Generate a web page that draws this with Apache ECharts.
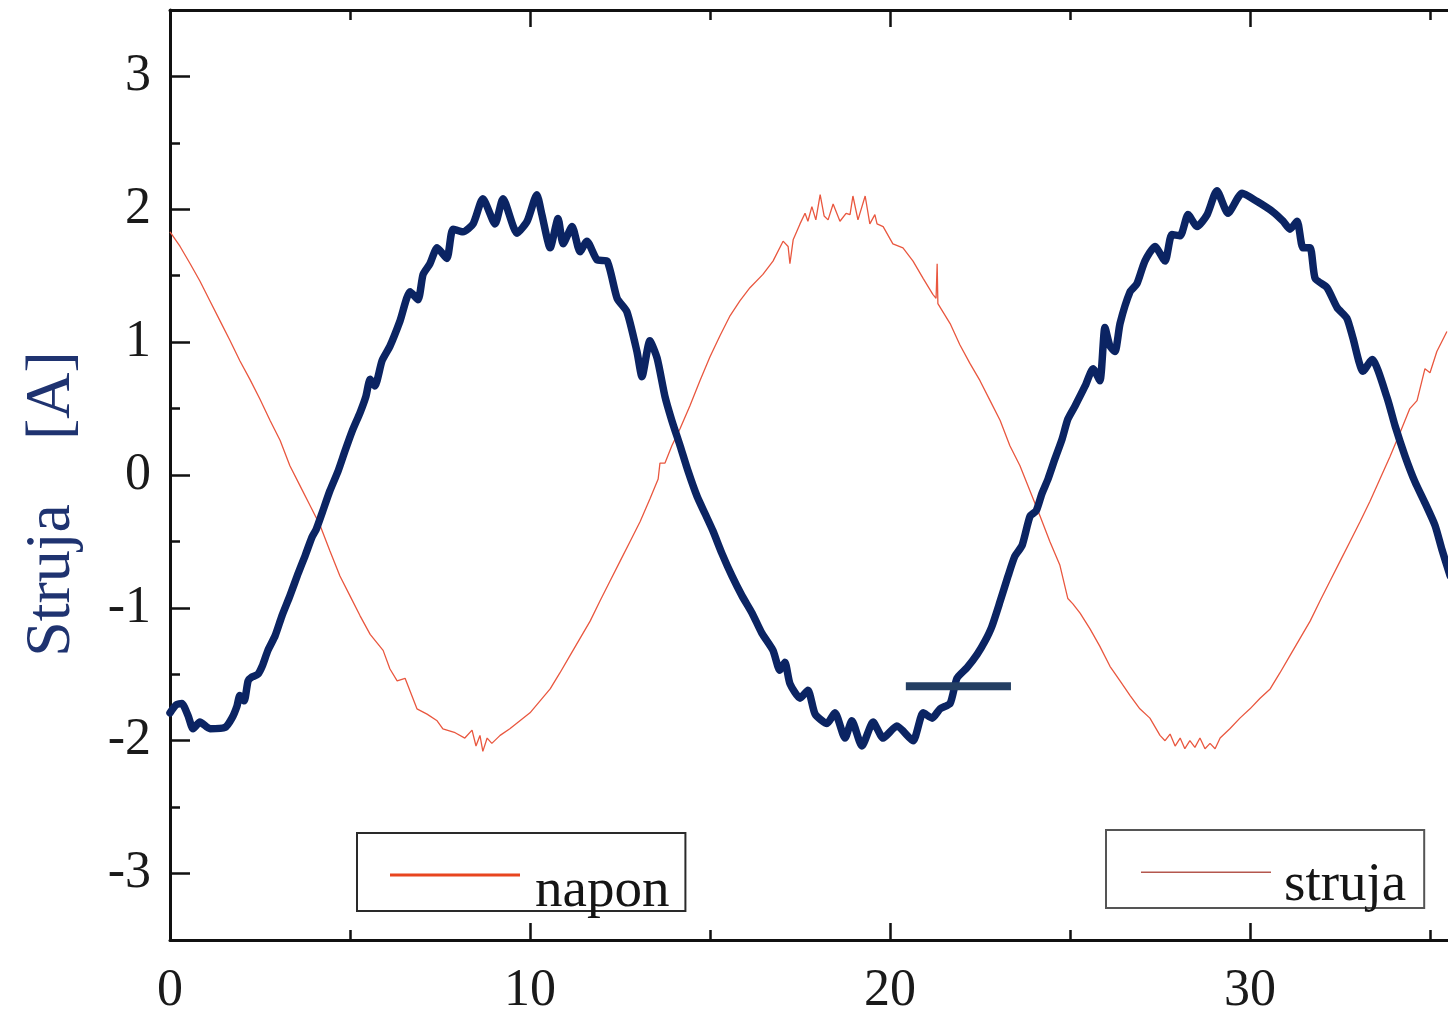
<!DOCTYPE html>
<html>
<head>
<meta charset="utf-8">
<title>Struja</title>
<script src="https://cdn.jsdelivr.net/npm/echarts@6/dist/echarts.min.js"></script>
<style>
  html, body { margin: 0; padding: 0; background: #ffffff; }
  #chart { width: 1448px; height: 1009px; }
</style>
</head>
<body>
<div id="chart"></div>
<script>
// Time samples and amplitudes of the thick (napon) trace
const naponT = [0, 0.17, 0.33, 0.5, 0.64, 0.83, 1.11, 1.53, 1.72, 1.86, 1.94, 2.06, 2.17, 2.28, 2.44, 2.56, 2.72, 2.92, 3.11, 3.33,
  3.56, 3.75, 3.94, 4.06, 4.22, 4.44, 4.67, 4.86, 5.06, 5.28, 5.44, 5.56, 5.69, 5.89, 6.11, 6.39, 6.67, 6.89, 7.03, 7.22,
  7.42, 7.69, 7.86, 8.14, 8.42, 8.69, 9.03, 9.25, 9.64, 9.92, 10.19, 10.33, 10.56, 10.78, 10.92, 11.17, 11.39, 11.58, 11.86, 12.14,
  12.42, 12.69, 12.97, 13.11, 13.33, 13.53, 13.75, 13.94, 14.17, 14.39, 14.64, 14.86, 15.08, 15.33, 15.61, 15.89, 16.17, 16.44, 16.75, 16.94,
  17.08, 17.22, 17.5, 17.72, 17.92, 18.25, 18.47, 18.75, 18.94, 19.22, 19.53, 19.81, 20.19, 20.64, 20.92, 21.17, 21.39, 21.67, 21.86, 22.14,
  22.42, 22.64, 22.83, 23.06, 23.28, 23.47, 23.67, 23.89, 24.06, 24.22, 24.39, 24.58, 24.78, 24.94, 25.14, 25.42, 25.64, 25.83, 25.97, 26.11,
  26.25, 26.39, 26.67, 26.86, 27.08, 27.36, 27.64, 27.83, 28.06, 28.28, 28.53, 28.81, 29.08, 29.39, 29.78, 30.19, 30.64, 30.92, 31.11, 31.31,
  31.47, 31.67, 31.81, 32.14, 32.42, 32.69, 32.86, 33.14, 33.39, 33.81, 34.03, 34.31, 34.58, 34.86, 35.14, 35.33, 35.56];
const naponV = [-1.79, -1.73, -1.72, -1.81, -1.91, -1.86, -1.91, -1.90, -1.83, -1.74, -1.66, -1.70, -1.55, -1.52, -1.50, -1.44, -1.32, -1.21, -1.06, -0.91,
  -0.74, -0.61, -0.47, -0.41, -0.29, -0.12, 0.03, 0.18, 0.33, 0.47, 0.59, 0.72, 0.67, 0.86, 0.97, 1.16, 1.38, 1.32, 1.51, 1.59,
  1.71, 1.63, 1.85, 1.83, 1.89, 2.08, 1.89, 2.08, 1.82, 1.91, 2.11, 1.96, 1.71, 1.93, 1.74, 1.87, 1.68, 1.76, 1.62, 1.61,
  1.33, 1.23, 0.93, 0.74, 1.01, 0.88, 0.59, 0.41, 0.22, 0.03, -0.16, -0.29, -0.42, -0.59, -0.76, -0.91, -1.04, -1.19, -1.32, -1.47,
  -1.41, -1.57, -1.68, -1.62, -1.80, -1.87, -1.79, -1.98, -1.85, -2.04, -1.86, -1.98, -1.89, -2.00, -1.79, -1.83, -1.76, -1.72, -1.53, -1.45,
  -1.35, -1.25, -1.14, -0.95, -0.76, -0.61, -0.53, -0.31, -0.27, -0.14, -0.03, 0.12, 0.27, 0.42, 0.52, 0.67, 0.80, 0.71, 1.11, 0.97,
  0.93, 1.14, 1.38, 1.44, 1.61, 1.72, 1.61, 1.81, 1.80, 1.96, 1.87, 1.96, 2.14, 1.97, 2.12, 2.06, 1.98, 1.91, 1.85, 1.91,
  1.71, 1.71, 1.48, 1.41, 1.26, 1.18, 1.03, 0.78, 0.87, 0.58, 0.37, 0.14, -0.05, -0.21, -0.38, -0.56, -0.76];

// Time samples and amplitudes of the thin (struja) trace
const strujaT = [0, 0.28, 0.56, 0.83, 1.11, 1.39, 1.67, 1.94, 2.22, 2.5, 2.78, 3.06, 3.33, 3.61, 3.89, 4.17, 4.44, 4.72, 5.0, 5.28,
  5.56, 5.92, 6.11, 6.31, 6.53, 6.86, 7.14, 7.42, 7.58, 7.92, 8.19, 8.39, 8.5, 8.61, 8.69, 8.81, 8.94, 9.17, 9.44, 9.72,
  10.0, 10.28, 10.56, 10.83, 11.11, 11.39, 11.67, 11.94, 12.22, 12.5, 12.78, 13.06, 13.33, 13.56, 13.61, 13.75, 13.94, 14.17, 14.44, 14.72,
  15.0, 15.28, 15.56, 15.83, 16.11, 16.47, 16.75, 17.03, 17.17, 17.22, 17.31, 17.5, 17.64, 17.72, 17.83, 17.94, 18.06, 18.17, 18.28, 18.42,
  18.61, 18.78, 18.89, 18.97, 19.11, 19.31, 19.44, 19.58, 19.64, 19.81, 20.08, 20.36, 20.64, 20.92, 21.19, 21.28, 21.31, 21.33, 21.67, 21.94,
  22.22, 22.5, 22.78, 23.06, 23.33, 23.61, 23.89, 24.17, 24.44, 24.72, 24.94, 25.08, 25.28, 25.56, 25.83, 26.11, 26.39, 26.67, 26.94, 27.22,
  27.5, 27.64, 27.78, 27.92, 28.06, 28.19, 28.33, 28.47, 28.61, 28.75, 28.89, 29.03, 29.17, 29.44, 29.72, 30.0, 30.28, 30.56, 30.83, 31.11,
  31.39, 31.67, 31.94, 32.22, 32.5, 32.78, 33.06, 33.33, 33.61, 33.89, 34.17, 34.44, 34.64, 34.86, 35.0, 35.19, 35.47];
const strujaV = [1.83, 1.72, 1.59, 1.46, 1.31, 1.16, 1.01, 0.86, 0.72, 0.57, 0.41, 0.26, 0.07, -0.08, -0.23, -0.38, -0.57, -0.76, -0.91, -1.06,
  -1.20, -1.32, -1.46, -1.55, -1.53, -1.76, -1.80, -1.85, -1.91, -1.94, -1.98, -1.92, -2.04, -1.96, -2.08, -1.98, -2.02, -1.96, -1.91, -1.85,
  -1.79, -1.70, -1.61, -1.49, -1.36, -1.23, -1.10, -0.95, -0.80, -0.65, -0.50, -0.35, -0.18, -0.03, 0.09, 0.09, 0.22, 0.35, 0.52, 0.71,
  0.89, 1.05, 1.20, 1.31, 1.41, 1.51, 1.61, 1.76, 1.72, 1.59, 1.77, 1.89, 1.97, 1.91, 2.02, 1.92, 2.11, 1.95, 1.92, 2.04,
  1.91, 1.97, 1.96, 2.10, 1.92, 2.10, 1.89, 1.96, 1.89, 1.87, 1.74, 1.71, 1.61, 1.48, 1.36, 1.33, 1.59, 1.29, 1.14, 0.98,
  0.84, 0.71, 0.56, 0.41, 0.22, 0.07, -0.12, -0.31, -0.50, -0.68, -0.93, -0.97, -1.04, -1.16, -1.29, -1.44, -1.55, -1.66, -1.76, -1.83,
  -1.96, -2.00, -1.95, -2.04, -1.98, -2.06, -2.00, -2.05, -1.98, -2.06, -2.02, -2.06, -1.98, -1.91, -1.83, -1.76, -1.68, -1.61, -1.49, -1.36,
  -1.23, -1.10, -0.95, -0.80, -0.65, -0.50, -0.35, -0.20, -0.03, 0.14, 0.32, 0.50, 0.56, 0.80, 0.77, 0.93, 1.08];

// Short horizontal reference bar drawn across the trough of the thick trace
const refBarT = [20.44, 23.36];
const refBarV = [-1.59, -1.59];

// Axis ticks and labels
const xLabels = [0, 10, 20, 30];
const xMajorTicks = [0, 10, 20, 30];
const xMinorTicks = [5, 15, 25, 35];
const yLabels = [-3, -2, -1, 0, 1, 2, 3];
const yMajorTicks = [-3, -2, -1, 0, 1, 2, 3];
const yMinorTicks = [-2.5, -1.5, -0.5, 0.5, 1.5, 2.5];

const zip = (t, v) => t.map((x, i) => [x, v[i]]);

const SERIF = '"Liberation Serif", "DejaVu Serif", serif';
const AXIS_COLOR = '#111111';

function xAxisDef(position, ticks, len, withLine, withLabels) {
  return {
    type: 'value', gridIndex: 0, position: position, min: 0, max: 35.5,
    axisLine: { show: withLine, onZero: false, lineStyle: { color: AXIS_COLOR, width: 3 } },
    axisTick: { show: true, inside: true, length: len, customValues: ticks,
                lineStyle: { color: AXIS_COLOR, width: 2.5 } },
    axisLabel: withLabels
      ? { show: true, customValues: xLabels, margin: 25, fontSize: 52, fontFamily: SERIF, color: '#1a1a1a' }
      : { show: false },
    splitLine: { show: false }
  };
}

function yAxisDef(ticks, len, withLine, withLabels) {
  const ax = {
    type: 'value', gridIndex: 0, position: 'left', min: -3.5, max: 3.5,
    axisLine: { show: withLine, onZero: false, lineStyle: { color: AXIS_COLOR, width: 3 } },
    axisTick: { show: true, inside: true, length: len, customValues: ticks,
                lineStyle: { color: AXIS_COLOR, width: 2.5 } },
    axisLabel: withLabels
      ? { show: true, customValues: yLabels, margin: 19, fontSize: 52, fontFamily: SERIF, color: '#1a1a1a' }
      : { show: false },
    splitLine: { show: false }
  };
  if (withLabels) {
    ax.name = 'Struja    [A]';
    ax.nameLocation = 'middle';
    ax.nameGap = 86;
    ax.nameTextStyle = { fontSize: 64, fontFamily: SERIF, color: '#1f3370', padding: [0, 58, 0, 0] };
  }
  return ax;
}

// Legend keys: the line sits at the top of the icon box so it rides above the label
const NAPON_KEY = 'path://M0,0 L130,0 L130,3 L0,3 Z M0,36 L0.01,36';
const STRUJA_KEY = 'path://M0,0 L130,0 L130,1.5 L0,1.5 Z M0,28 L0.01,28';

const legendText = (padLeft) => ({
  fontSize: 55, fontFamily: SERIF, color: '#151515', padding: [0, 0, 0, padLeft]
});

const chart = echarts.init(document.getElementById('chart'), null, { renderer: 'canvas' });

chart.setOption({
  backgroundColor: '#ffffff',
  animation: false,
  grid: { left: 170, right: 0, top: 10, bottom: 69, containLabel: false, outerBoundsMode: 'none' },
  xAxis: [
    xAxisDef('bottom', xMajorTicks, 17, true, true),
    xAxisDef('bottom', xMinorTicks, 10, false, false),
    xAxisDef('top', xMajorTicks, 17, true, false),
    xAxisDef('top', xMinorTicks, 10, false, false)
  ],
  yAxis: [
    yAxisDef(yMajorTicks, 20, true, true),
    yAxisDef(yMinorTicks, 10, false, false)
  ],
  legend: [
    {
      left: 357, top: 833, orient: 'horizontal',
      // the descenders of the label reach the lower edge of the frame
      padding: [31, 16, -8, 33],
      borderColor: '#2a2a2a', borderWidth: 2, backgroundColor: '#ffffff',
      itemWidth: 130, itemHeight: 36, itemGap: 0,
      textStyle: legendText(10),
      data: [{ name: 'napon', icon: NAPON_KEY, itemStyle: { color: '#e8451f' } }]
    },
    {
      left: 1106, top: 830, orient: 'horizontal',
      padding: [28, 18, -5, 35],
      borderColor: '#555555', borderWidth: 2, backgroundColor: '#ffffff',
      itemWidth: 130, itemHeight: 28, itemGap: 0,
      textStyle: legendText(8),
      data: [{ name: 'struja', icon: STRUJA_KEY, itemStyle: { color: '#b4574e' } }]
    }
  ],
  series: [
    {
      name: 'struja', type: 'line', xAxisIndex: 0, yAxisIndex: 0,
      data: zip(strujaT, strujaV),
      symbol: 'none', smooth: false,
      lineStyle: { color: '#e9573f', width: 1.3 },
      itemStyle: { color: '#e9573f' },
      z: 2
    },
    {
      name: 'napon', type: 'line', xAxisIndex: 0, yAxisIndex: 0,
      data: zip(naponT, naponV),
      symbol: 'none', smooth: 0.2,
      lineStyle: { color: '#0b2463', width: 7.5, join: 'round', cap: 'round' },
      itemStyle: { color: '#0b2463' },
      z: 3
    },
    {
      name: 'ref', type: 'line', xAxisIndex: 0, yAxisIndex: 0,
      data: zip(refBarT, refBarV),
      symbol: 'none',
      lineStyle: { color: '#243f63', width: 8, cap: 'butt' },
      itemStyle: { color: '#243f63' },
      z: 4
    }
  ]
});
</script>
</body>
</html>
